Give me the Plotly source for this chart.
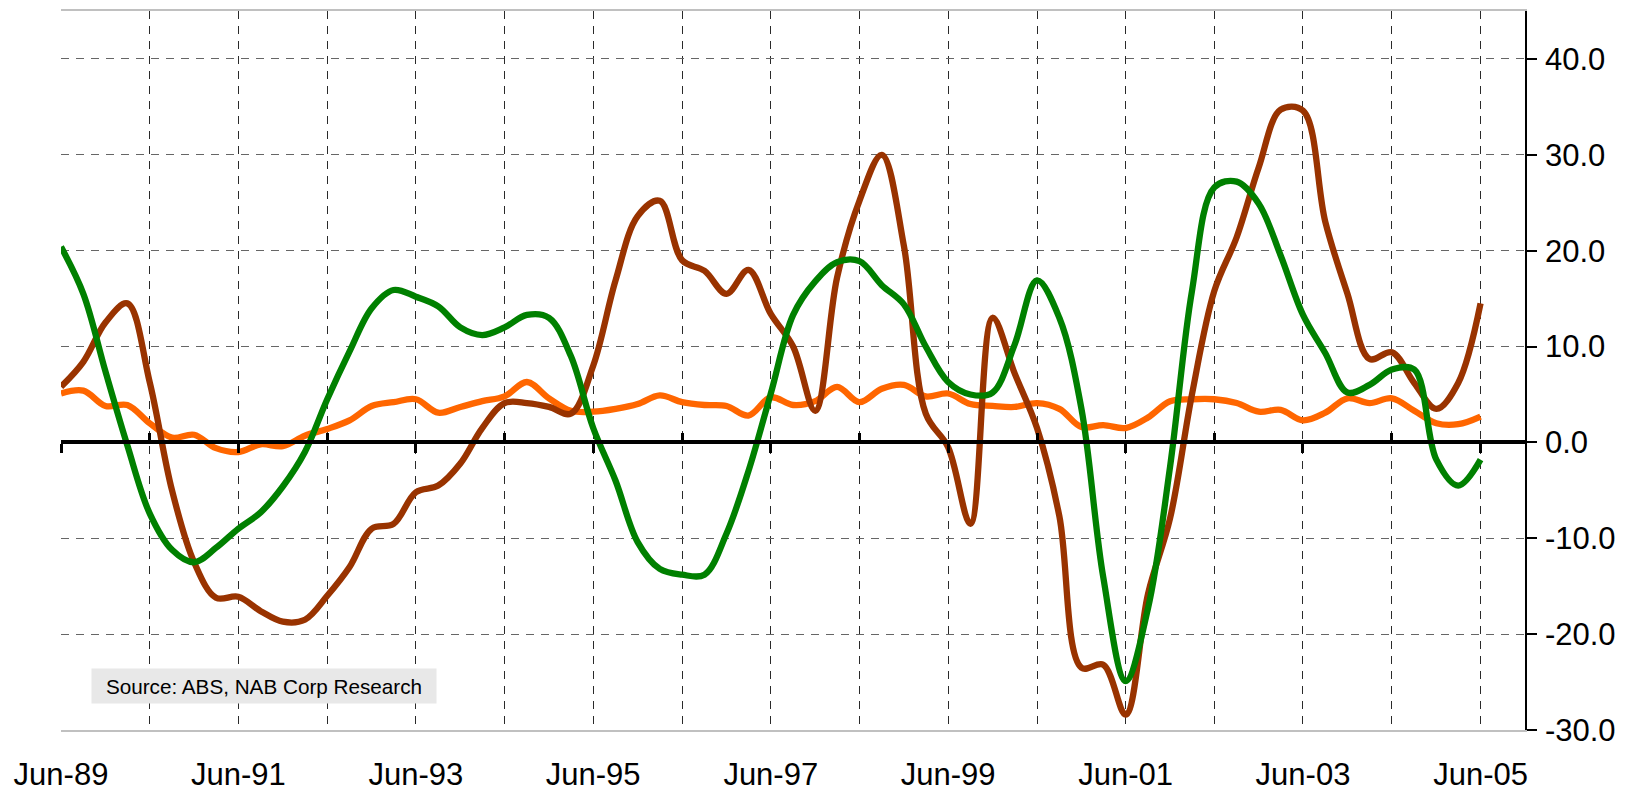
import plotly.graph_objects as go
import pandas as pd

# Quarterly observations, Jun-89 .. Jun-05
dates = pd.date_range('1989-06-01', periods=65, freq='3MS')

green = [20.4, 15.5, 7.4, -0.3, -7.4, -11.2, -12.5, -11.0, -9.0, -7.3, -4.6, -1.0,
         4.5, 9.5, 14.0, 15.9, 15.2, 14.2, 12.0, 11.2, 12.0, 13.3, 13.0, 9.0,
         1.5, -4.0, -10.4, -13.2, -13.8, -13.8, -9.5, -3.0, 5.1, 13.3, 16.8, 18.8,
         18.9, 16.4, 14.4, 10.0, 6.3, 5.0, 5.2, 10.2, 16.9, 13.0, 3.5, -14.1,
         -24.9, -17.3, -2.5, 15.8, 26.6, 27.2, 24.9, 19.5, 13.3, 9.3, 5.2, 6.0,
         7.6, 7.6, -1.8, -4.5, -1.8]

orange = [5.1, 5.4, 3.8, 3.9, 2.0, 0.5, 0.8, -0.6, -1.0, -0.2, -0.4, 0.7,
          1.4, 2.3, 3.8, 4.2, 4.5, 3.1, 3.7, 4.3, 4.8, 6.3, 4.6, 3.3,
          3.2, 3.5, 4.0, 4.9, 4.2, 3.9, 3.8, 2.8, 4.7, 3.9, 4.3, 5.8,
          4.2, 5.6, 6.0, 4.8, 5.1, 4.0, 3.8, 3.7, 4.1, 3.5, 1.6, 1.8,
          1.5, 2.6, 4.3, 4.5, 4.5, 4.1, 3.2, 3.4, 2.3, 3.1, 4.6, 4.1,
          4.6, 3.3, 2.0, 1.9, 2.7]

brown = [5.8, 8.4, 12.5, 14.5, 6.3, -5.0, -12.5, -16.2, -16.1, -17.6, -18.7, -18.5,
         -16.0, -13.0, -9.0, -8.5, -5.2, -4.5, -2.2, 1.5, 4.1, 4.1, 3.7, 3.0,
         8.0, 16.9, 23.6, 25.2, 19.0, 17.9, 15.5, 18.0, 13.4, 10.0, 3.3, 17.2,
         25.2, 30.0, 20.5, 3.0, -0.5, -8.5, 13.0, 7.2, 1.5, -7.7, -23.5, -23.2,
         -28.4, -15.8, -7.9, 5.0, 15.8, 21.4, 28.7, 34.7, 34.6, 23.0, 15.5, 8.7,
         9.4, 6.2, 3.5, 6.2, 14.5]

years = list(range(1989, 2006))
tick_dates = [f'{y}-06-01' for y in years]
tick_text = [f'Jun-{y % 100:02d}' if (y - 1989) % 2 == 0 else '' for y in years]
major_ticks = [d for d, y in zip(tick_dates, years) if (y - 1989) % 2 == 0]
minor_ticks = [d for d, y in zip(tick_dates, years) if (y - 1989) % 2 == 1]
y_ticks = list(range(-30, 50, 10))
y_text = [f'{v:.1f}' for v in y_ticks]  # plain hyphen minus

x_range = ['1989-06-01', '2005-12-01']
y_range = [-30, 45]

FONT = 'Liberation Sans, Arial, sans-serif'

fig = go.Figure()
for vals, col in [(orange, '#FF6600'), (brown, '#993300'), (green, '#008000')]:
    fig.add_trace(go.Scatter(x=dates, y=vals, mode='lines',
                             line=dict(color=col, width=6.3, shape='spline'),
                             hoverinfo='skip', showlegend=False))

# empty helper traces so the zero-line axes get drawn
for ax in ['x3', 'x4']:
    fig.add_trace(go.Scatter(x=[dates[0], dates[-1]], y=[None, None], mode='lines',
                             xaxis=ax, yaxis='y', hoverinfo='skip', showlegend=False))

# page body has an 8px default margin, so the figure is 8px smaller
fig.update_layout(
    width=1630, height=785,
    margin=dict(l=53, r=113, t=3, b=63, autoexpand=False),
    paper_bgcolor='white', plot_bgcolor='white',
    font=dict(family=FONT, color='black'),
    showlegend=False,
    xaxis=dict(type='date', range=x_range, tickvals=tick_dates, ticktext=tick_text,
               automargin=False,
               showgrid=True, gridcolor='#2a2a2a', gridwidth=1, griddash='8px,7px',
               showline=True, linecolor='#c0c0c0', linewidth=2, mirror=True,
               ticks='outside', ticklen=16, tickcolor='rgba(0,0,0,0)',
               tickfont=dict(size=31, color='black', family=FONT), zeroline=False),
    yaxis=dict(range=y_range, side='right', tickvals=y_ticks, ticktext=y_text,
               automargin=False,
               showgrid=True, gridcolor='#666666', gridwidth=1, griddash='8px,7px',
               showline=True, linecolor='black', linewidth=1.5,
               ticks='outside', ticklen=10, tickcolor='black', tickwidth=1.5,
               ticklabelstandoff=2,
               tickfont=dict(size=31, color='black', family=FONT), zeroline=False),
    yaxis2=dict(overlaying='y', side='left', range=y_range, showline=True,
                automargin=False,
                linecolor='#c0c0c0', linewidth=2, showgrid=False,
                showticklabels=False, ticks='', zeroline=False),
    xaxis3=dict(overlaying='x', anchor='free', position=0.4, side='bottom', type='date',
                automargin=False,
                range=x_range, tickvals=major_ticks, ticks='outside', ticklen=9,
                tickwidth=3, tickcolor='black', showline=True, linecolor='black',
                linewidth=4, showticklabels=False, showgrid=False, zeroline=False),
    xaxis4=dict(overlaying='x', anchor='free', position=0.4, side='top', type='date',
                automargin=False,
                range=x_range, tickvals=minor_ticks, ticks='outside', ticklen=9,
                tickwidth=3, tickcolor='black', showline=False,
                showticklabels=False, showgrid=False, zeroline=False),
    annotations=[dict(text='Source: ABS, NAB Corp Research', xref='paper', yref='paper',
                      x=0.1387, y=0.0612, xanchor='center', yanchor='middle',
                      showarrow=False, bgcolor='#e8e8e8', width=340, height=30,
                      borderpad=2, font=dict(size=20.7, color='black', family=FONT))],
)

fig.write_html('out.html')
